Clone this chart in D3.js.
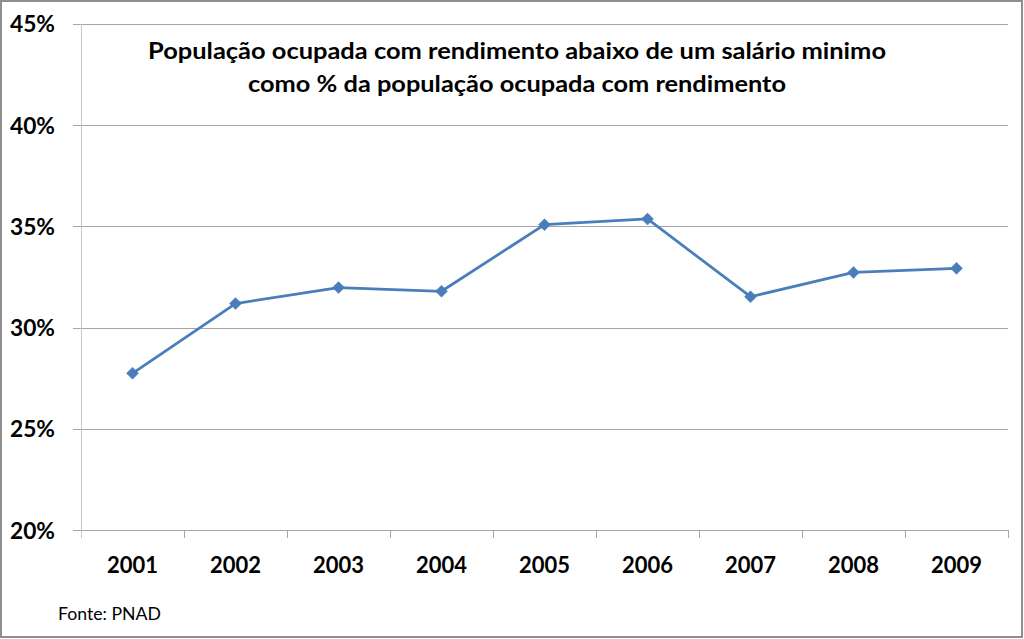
<!DOCTYPE html>
<html><head><meta charset="utf-8">
<script src="https://cdn.jsdelivr.net/npm/d3@7"></script>
<style>body{margin:0;background:#fff}svg{display:block}</style>
</head><body>
<svg id="c" width="1024" height="639"></svg>
<script>
const years = ["2001","2002","2003","2004","2005","2006","2007","2008","2009"];
const values = [27.74, 31.18, 31.97, 31.79, 35.08, 35.36, 31.52, 32.72, 32.92];
const yTicks = [20, 25, 30, 35, 40, 45];
const titleLines = ["População ocupada com rendimento abaixo de um salário minimo",
                    "como % da população ocupada com rendimento"];
const source = "Fonte:  PNAD";

const svg = d3.select("#c");
const FONT = "Lato, 'Open Sans', 'Liberation Sans', sans-serif";
const pLeft = 81, pRight = 1008, pTop = 23.75, pBottom = 530;

svg.append("rect").attr("x",1).attr("y",1).attr("width",1021).attr("height",636)
  .attr("fill","#fff").attr("stroke","#8f8f8f").attr("stroke-width",2);

const x = d3.scaleBand().domain(years).range([pLeft, pRight]);
const y = d3.scaleLinear().domain([20,45]).range([pBottom, pTop]);

function fit(sel, target){
  sel.attr("textLength", target).attr("lengthAdjust","spacingAndGlyphs");
}

// gridlines
svg.append("g").selectAll("line").data(yTicks).join("line")
  .attr("x1", pLeft-8).attr("x2", pRight)
  .attr("y1", d=>Math.round(y(d))+0.5).attr("y2", d=>Math.round(y(d))+0.5)
  .attr("stroke", "#a6a6a6").attr("stroke-width", 1);

// y axis line
svg.append("line").attr("x1",pLeft+0.5).attr("x2",pLeft+0.5).attr("y1",pTop).attr("y2",pBottom+8)
  .attr("stroke","#c4c4c4").attr("stroke-width",1);

// x ticks
const xt = years.map(d=>x(d)).concat([pRight]);
svg.append("g").selectAll("line").data(xt.slice(1)).join("line")
  .attr("x1", d=>Math.round(d)+0.5).attr("x2", d=>Math.round(d)+0.5)
  .attr("y1", pBottom).attr("y2", pBottom+8)
  .attr("stroke","#a6a6a6").attr("stroke-width",1);

// y labels
svg.append("g").selectAll("text").data(yTicks).join("text")
  .attr("x", 55).attr("y", d=>y(d)+8.5)
  .attr("text-anchor","end").attr("font-family",FONT).attr("font-weight","bold")
  .attr("font-size",22).attr("fill","#000").text(d=>d+"%")
  .each(function(){ fit(d3.select(this), 45); });

// x labels
svg.append("g").selectAll("text").data(years).join("text")
  .attr("x", d=>x(d)+x.bandwidth()/2).attr("y", 573)
  .attr("text-anchor","middle").attr("font-family",FONT).attr("font-weight","bold")
  .attr("font-size",23).attr("fill","#000").text(d=>d)
  .each(function(){ fit(d3.select(this), 51); });

// title
const tW = [738, 538], tY = [59, 92];
titleLines.forEach((t,i)=>{
  const s = svg.append("text").attr("x",517).attr("y",tY[i]).attr("text-anchor","middle")
    .attr("font-family",FONT).attr("font-weight","bold").attr("font-size",23)
    .attr("fill","#000").text(t);
  fit(s, tW[i]);
});

// line
const pts = years.map((d,i)=>[x(d)+x.bandwidth()/2, y(values[i])]);
svg.append("path").attr("d", d3.line()(pts)).attr("fill","none")
  .attr("stroke","#4a7ebb").attr("stroke-width",2.75).attr("stroke-linejoin","round");
svg.append("g").selectAll("path").data(pts).join("path")
  .attr("transform", d=>`translate(${d[0]},${d[1]})`)
  .attr("d", "M0,-6L6,0L0,6L-6,0Z").attr("fill","#4a7ebb").attr("stroke","#4a7ebb").attr("stroke-width",0.5);

// source
const src = svg.append("text").attr("x",58).attr("y",620).attr("font-family",FONT)
  .attr("font-size",16.5).attr("fill","#000").text(source);
fit(src, 103);
</script>
</body></html>
